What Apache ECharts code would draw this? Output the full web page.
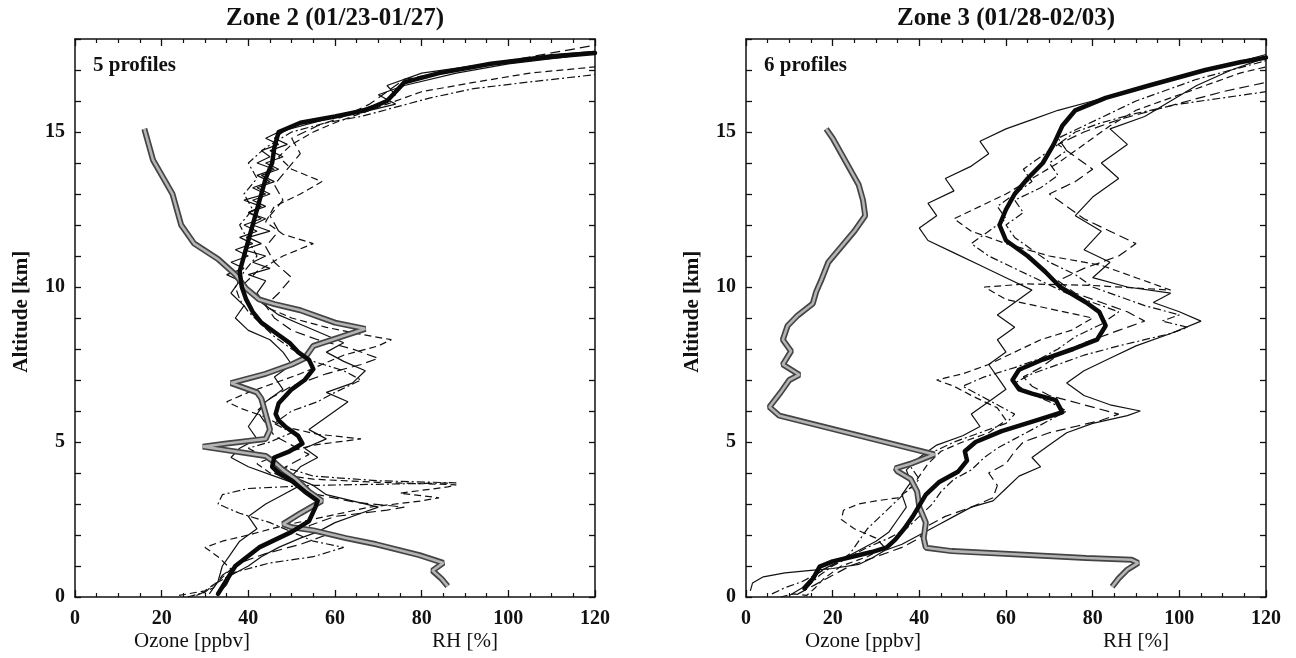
<!DOCTYPE html>
<html>
<head>
<meta charset="utf-8">
<script src="https://cdn.jsdelivr.net/npm/echarts@6/dist/echarts.min.js"></script>
<style>
  html, body { margin: 0; padding: 0; background: #fff; }
  #chart { width: 1296px; height: 658px; }
</style>
</head>
<body>
<div id="chart"></div>
<script>
// [ozone or RH value, altitude km]
var yTickLabels = [0, 5, 10, 15];

// ---- Zone 2 (01/23-01/27), 5 profiles ----
var z2Mean = [[33,0.1],[37,1.0],[42.5,1.6],[50,2.1],[54,2.45],[55.5,2.9],[56,3.1],[53,3.4],[50,3.75],[47,4.0],[45.5,4.2],[46,4.5],[49.5,4.7],[52.5,4.95],[51.5,5.2],[48.5,5.5],[47,5.7],[46.3,5.9],[47,6.25],[50,6.7],[53,7.0],[55,7.35],[54,7.65],[51.5,7.9],[49.5,8.2],[46.5,8.5],[43,8.85],[41,9.2],[39.5,9.6],[38.5,10.0],[38,10.5],[39,11.0],[40,11.5],[41,12.0],[42,12.5],[43,13.0],[44,13.5],[45.5,14.0],[46,14.5],[47,15.0],[52,15.3],[60,15.5],[67,15.7],[72,16.0],[74,16.3],[76,16.6],[84,16.9],[96,17.2],[108,17.4],[120,17.55]];
var z2RH = [[86,0.35],[84.5,0.6],[82.5,0.85],[85,1.1],[79.5,1.35],[69.5,1.7],[62.5,1.9],[55,2.15],[50,2.25],[48,2.35],[52,2.7],[57,3.1],[54,3.4],[51,3.8],[48,4.1],[46,4.35],[44,4.55],[29.5,4.85],[35,4.95],[44,5.1],[45,5.4],[44,5.9],[43,6.4],[42,6.6],[36,6.9],[44,7.2],[50,7.5],[53,7.7],[55,8.1],[67,8.65],[60,8.85],[52,9.25],[46,9.45],[42.5,9.6],[39.5,9.95],[37,10.4],[33,10.9],[27.5,11.4],[24.5,12.0],[22.5,13.0],[18,14.1],[16,15.1]];
var z2P1 = [[33,0.1],[35,0.4],[36,0.7],[40,1.0],[43,1.3],[47,1.6],[52,1.9],[56,2.1],[60,2.4],[66,2.7],[70,2.9],[64,3.1],[58,3.3],[55,3.6],[50,3.9],[52,4.2],[56,4.5],[53,4.8],[58,5.1],[54,5.4],[57,5.7],[60,6.0],[63,6.3],[58,6.6],[64,6.9],[67,7.3],[62,7.6],[58,7.9],[62,8.2],[57,8.5],[52,8.8],[47,9.1],[44,9.4],[42,9.8],[44,10.2],[40,10.4],[45,10.6],[41,10.8],[44,11.0],[39,11.2],[43,11.4],[40,11.6],[45,11.8],[41,12.0],[44,12.2],[40,12.4],[43,12.6],[39,12.8],[44,13.0],[41,13.2],[45,13.4],[42,13.6],[46,13.8],[42,14.0],[45,14.2],[43,14.4],[47,14.6],[44,14.8],[47,15.0],[55,15.3],[63,15.6],[70,15.9],[74,16.2],[72,16.5],[80,16.9],[95,17.2],[110,17.5],[120,17.6]];
var z2P2 = [[24,0.05],[30,0.2],[33,0.5],[36,0.9],[33,1.3],[30,1.6],[34,1.8],[40,2.0],[48,2.3],[58,2.6],[68,2.9],[80,3.1],[84,3.2],[75,3.35],[86,3.55],[88,3.62],[70,3.7],[55,3.8],[45,4.0],[42,4.3],[47,4.6],[55,4.9],[66,5.1],[56,5.25],[48,5.5],[44,5.8],[38,6.1],[35,6.3],[40,6.6],[46,6.9],[52,7.2],[57,7.5],[62,7.8],[70,8.1],[73,8.3],[65,8.5],[58,8.7],[50,9.0],[45,9.3],[41,9.7],[39,10.1],[42,10.5],[48,11.0],[55,11.4],[48,11.7],[44,12.1],[46,12.6],[52,13.0],[57,13.4],[50,13.8],[47,14.2],[50,14.6],[55,15.0],[60,15.3],[66,15.6],[72,15.9],[80,16.3],[92,16.6],[105,16.9],[120,17.1]];
var z2P3 = [[26,0.0],[30,0.15],[32,0.4],[37,0.8],[45,1.1],[55,1.3],[62,1.6],[55,1.8],[50,2.1],[45,2.4],[38,2.7],[33,3.0],[34,3.3],[40,3.5],[55,3.6],[75,3.65],[88,3.68],[70,3.75],[55,3.9],[48,4.2],[44,4.5],[40,4.8],[45,5.0],[50,5.3],[46,5.6],[50,6.0],[56,6.3],[60,6.6],[66,7.0],[62,7.3],[55,7.6],[50,8.0],[46,8.4],[43,8.8],[40,9.2],[38,9.6],[37,10.0],[39,10.5],[42,11.0],[40,11.5],[38,12.0],[41,12.5],[39,13.0],[42,13.5],[40,14.0],[44,14.5],[50,15.0],[58,15.3],[66,15.5],[74,15.8],[82,16.1],[92,16.4],[104,16.6],[120,16.85]];
var z2P4 = [[31,0.1],[33,0.5],[34,1.0],[36,1.4],[38,1.8],[42,2.2],[40,2.6],[44,3.0],[48,3.3],[52,3.6],[46,3.9],[40,4.2],[36,4.5],[38,4.8],[42,5.1],[40,5.5],[42,5.9],[44,6.3],[48,6.7],[46,7.1],[50,7.5],[48,7.9],[45,8.3],[40,8.6],[37,9.0],[39,9.4],[36,9.8],[38,10.2],[35,10.4],[39,10.6],[36,10.8],[40,11.0],[37,11.2],[41,11.4],[38,11.6],[42,11.8],[39,12.0],[43,12.2],[40,12.4],[44,12.6],[41,12.8],[45,13.0],[42,13.2],[46,13.4],[43,13.6],[47,13.8],[44,14.0],[48,14.2],[45,14.4],[49,14.6],[46,14.8],[48,15.0],[52,15.3],[60,15.5],[68,15.7],[74,15.9],[70,16.2],[76,16.5],[88,16.9],[100,17.2],[112,17.4],[120,17.55]];
var z2P5 = [[28,0.05],[32,0.3],[34,0.7],[38,1.1],[44,1.4],[52,1.7],[58,2.0],[54,2.3],[60,2.6],[72,2.8],[76,2.9],[65,3.05],[56,3.3],[50,3.7],[46,4.0],[50,4.3],[54,4.6],[50,4.9],[46,5.2],[44,5.6],[42,6.0],[45,6.4],[50,6.8],[58,7.2],[66,7.5],[70,7.7],[64,8.0],[56,8.3],[50,8.6],[46,9.0],[44,9.4],[47,9.8],[50,10.3],[46,10.8],[44,11.3],[47,11.8],[45,12.3],[48,12.8],[46,13.3],[49,13.8],[52,14.3],[50,14.8],[56,15.2],[62,15.5],[68,15.9],[72,16.3],[76,16.7],[88,17.0],[100,17.3],[112,17.6],[120,17.8]];

// ---- Zone 3 (01/28-02/03), 6 profiles ----
var z3Mean = [[13.5,0.27],[15.5,0.6],[17,0.98],[20,1.15],[24.5,1.3],[29,1.45],[32.5,1.6],[34.5,1.86],[36.5,2.2],[38.5,2.6],[41.5,3.3],[44.5,3.7],[49,4.05],[51,4.4],[50.5,4.7],[53,5.0],[59,5.35],[67,5.7],[73,5.96],[71.5,6.35],[66,6.56],[63,6.7],[61.5,7.0],[63,7.33],[68.5,7.66],[75.5,8.0],[81,8.3],[83,8.75],[81.5,9.2],[78.5,9.5],[75.5,9.75],[72.5,10.0],[69,10.5],[65,11.0],[60,11.5],[58.5,12.0],[60,12.5],[62,13.0],[65,13.5],[68.5,14.0],[71,14.6],[73,15.2],[76,15.7],[83,16.1],[93,16.5],[106,17.0],[114,17.25],[120,17.4]];
var z3RH = [[84.5,0.33],[86,0.6],[88,0.88],[90.5,1.1],[89,1.2],[78.5,1.26],[63,1.37],[47.5,1.48],[41.5,1.59],[41,1.9],[41.5,2.4],[40,2.9],[39.5,3.4],[38,3.8],[35,4.05],[34.5,4.15],[38,4.3],[43.5,4.6],[7.7,5.85],[5.4,6.13],[8,6.6],[10,7.0],[12.3,7.17],[8.5,7.5],[10.4,7.93],[8.5,8.3],[9.6,8.75],[11.9,9.08],[15.4,9.46],[16.2,9.85],[17.3,10.2],[19,10.8],[22,11.3],[25,11.8],[27.5,12.3],[27,12.8],[26,13.3],[24,13.8],[22,14.3],[20,14.8],[18.5,15.1]];
var z3P1 = [[1,0.2],[1.5,0.45],[4,0.65],[9,0.78],[15,0.86],[20,0.92],[26,1.05],[29,1.25],[32,1.5],[36,1.7],[40,2.0],[44,2.3],[48,2.6],[52,2.9],[57,3.1],[60,3.5],[63,3.9],[68,4.2],[66,4.5],[70,4.9],[74,5.3],[80,5.6],[88,5.85],[91,6.0],[84,6.2],[78,6.5],[74,6.9],[78,7.3],[84,7.7],[90,8.1],[98,8.5],[105,8.9],[100,9.2],[94,9.5],[98,9.8],[88,10.0],[80,10.3],[84,10.8],[78,11.2],[82,11.8],[76,12.3],[80,12.9],[86,13.5],[82,14.0],[88,14.6],[84,15.1],[92,15.5],[98,16.0],[104,16.5],[112,17.0],[120,17.4]];
var z3P2 = [[8,0.0],[11,0.1],[14,0.05],[16,0.3],[18,0.6],[22,1.0],[28,1.3],[32,1.6],[30,1.9],[25,2.2],[22,2.5],[22.5,2.8],[26,3.0],[30,3.1],[35,3.2],[38,3.5],[40,3.9],[42,4.3],[45,4.7],[50,5.0],[56,5.3],[60,5.7],[58,6.1],[52,6.5],[48,6.8],[44,7.0],[50,7.2],[56,7.5],[62,7.9],[68,8.3],[75,8.6],[80,9.0],[70,9.3],[60,9.6],[55,10.0],[65,10.1],[80,10.05],[98,9.9],[90,10.3],[82,10.7],[70,11.0],[60,11.4],[52,11.8],[48,12.2],[54,12.6],[60,13.0],[66,13.5],[72,14.0],[78,14.6],[84,15.2],[90,15.7],[98,16.1],[106,16.5],[114,16.9],[120,17.1]];
var z3P3 = [[14,0.3],[17,0.7],[20,1.0],[24,1.3],[28,1.6],[33,1.9],[37,2.2],[40,2.6],[43,3.0],[45,3.4],[48,3.8],[52,4.1],[55,4.5],[58,4.8],[62,5.1],[66,5.4],[70,5.7],[74,6.0],[70,6.3],[65,6.6],[62,6.9],[66,7.2],[72,7.5],[78,7.8],[86,8.1],[92,8.3],[98,8.5],[102,8.7],[96,8.9],[100,9.1],[92,9.4],[86,9.7],[80,10.0],[76,10.4],[70,10.8],[66,11.2],[62,11.6],[60,12.0],[64,12.4],[62,12.8],[68,13.2],[72,13.6],[70,14.0],[74,14.4],[72,14.8],[78,15.2],[84,15.6],[90,16.0],[96,16.3],[104,16.7],[112,17.0],[120,17.3]];
var z3P4 = [[10,0.05],[13,0.3],[15,0.6],[18,0.9],[22,1.2],[26,1.5],[30,1.8],[33,2.1],[35,2.5],[37,2.9],[36,3.3],[38,3.7],[37,4.1],[40,4.5],[44,4.9],[50,5.2],[54,5.5],[52,5.9],[56,6.3],[60,6.7],[58,7.1],[56,7.5],[60,7.9],[58,8.3],[62,8.7],[58,9.1],[62,9.5],[66,9.9],[60,10.3],[54,10.7],[48,11.1],[42,11.5],[40,11.9],[44,12.3],[42,12.7],[48,13.1],[46,13.5],[52,13.9],[56,14.3],[54,14.7],[60,15.1],[66,15.4],[72,15.7],[80,16.0],[88,16.3],[96,16.6],[104,16.9],[112,17.2],[120,17.5]];
var z3P5 = [[12,0.1],[16,0.4],[20,0.7],[24,1.0],[30,1.3],[36,1.6],[40,1.9],[42,2.3],[46,2.6],[52,2.9],[57,3.2],[58,3.6],[56,4.0],[60,4.3],[62,4.7],[64,5.0],[70,5.3],[76,5.5],[82,5.7],[86,5.9],[78,6.2],[70,6.5],[66,6.8],[64,7.1],[68,7.4],[72,7.8],[78,8.2],[86,8.6],[92,8.9],[88,9.2],[82,9.5],[76,9.8],[72,10.2],[78,10.6],[86,11.0],[90,11.4],[84,11.8],[78,12.2],[74,12.6],[70,13.0],[76,13.4],[80,13.8],[76,14.2],[72,14.6],[78,15.0],[86,15.4],[94,15.7],[102,16.0],[110,16.3],[120,16.6]];
var z3P6 = [[6,0.1],[9,0.3],[13,0.5],[17,0.8],[21,1.1],[24,1.4],[26,1.8],[28,2.2],[31,2.6],[34,3.0],[37,3.4],[40,3.8],[38,4.2],[42,4.6],[48,5.0],[54,5.3],[60,5.6],[62,5.9],[58,6.2],[54,6.5],[50,6.8],[55,7.1],[62,7.4],[68,7.7],[72,8.0],[76,8.4],[82,8.8],[86,9.2],[80,9.5],[74,9.8],[68,10.2],[62,10.6],[56,11.0],[52,11.4],[56,11.8],[60,12.2],[58,12.6],[62,13.0],[66,13.4],[64,13.8],[68,14.2],[72,14.6],[76,15.0],[82,15.3],[90,15.6],[100,15.9],[110,16.1],[120,16.3]];

var FONT = '"Liberation Serif", "DejaVu Serif", serif';
var dashStyles = ['solid', [7, 4], [8, 3, 2, 3], 'solid', [10, 5], [8, 3, 2, 3]];

function xAxis(g, position, labels) {
  return {
    gridIndex: g, type: 'value', position: position, min: 0, max: 120, interval: 20,
    axisLine: { show: true, onZero: false, lineStyle: { color: '#111', width: 1.5 } },
    axisTick: { show: true, inside: true, length: 7, lineStyle: { color: '#111', width: 1.3 } },
    minorTick: { show: true, splitNumber: 4, length: 4, lineStyle: { color: '#111', width: 1.2 } },
    splitLine: { show: false },
    axisLabel: { show: labels, color: '#111', fontFamily: FONT, fontWeight: 'bold', fontSize: 20, margin: 12 }
  };
}

function yAxis(g, position, labels) {
  return {
    gridIndex: g, type: 'value', position: position, min: 0, max: 18, interval: 1,
    axisLine: { show: true, onZero: false, lineStyle: { color: '#111', width: 1.5 } },
    axisTick: { show: true, inside: true, length: 6, lineStyle: { color: '#111', width: 1.3 } },
    splitLine: { show: false },
    axisLabel: {
      show: labels, color: '#111', fontFamily: FONT, fontWeight: 'bold', fontSize: 20, margin: 10,
      formatter: function (v) { return yTickLabels.indexOf(v) >= 0 ? String(v) : ''; }
    }
  };
}

function panelSeries(g, mean, rh, profiles) {
  var ax = g * 2;
  var out = [];
  profiles.forEach(function (p, i) {
    out.push({
      type: 'line', xAxisIndex: ax, yAxisIndex: ax, data: p,
      showSymbol: false, symbol: 'none', silent: true, z: 2,
      lineStyle: { color: '#111', width: 1.2, type: dashStyles[i] }
    });
  });
  // RH: hatched grey band -> dark edge + light core
  out.push({
    type: 'line', xAxisIndex: ax, yAxisIndex: ax, data: rh,
    showSymbol: false, symbol: 'none', silent: true, z: 3,
    lineStyle: { color: '#444', width: 6 }
  });
  out.push({
    type: 'line', xAxisIndex: ax, yAxisIndex: ax, data: rh,
    showSymbol: false, symbol: 'none', silent: true, z: 4,
    lineStyle: { color: '#b4b4b4', width: 2.6 }
  });
  out.push({
    type: 'line', xAxisIndex: ax, yAxisIndex: ax, data: mean,
    showSymbol: false, symbol: 'none', silent: true, z: 5,
    lineStyle: { color: '#0a0a0a', width: 4.5, join: 'round', cap: 'round' }
  });
  return out;
}

var chart = echarts.init(document.getElementById('chart'), null, { renderer: 'canvas' });

chart.setOption({
  animation: false,
  backgroundColor: '#fff',
  grid: [
    { left: 75, right: 1296 - 595, top: 39, bottom: 658 - 597 },
    { left: 746, right: 1296 - 1266, top: 39, bottom: 658 - 597 }
  ],
  xAxis: [xAxis(0, 'bottom', true), xAxis(0, 'top', false), xAxis(1, 'bottom', true), xAxis(1, 'top', false)],
  yAxis: [yAxis(0, 'left', true), yAxis(0, 'right', false), yAxis(1, 'left', true), yAxis(1, 'right', false)],
  series: panelSeries(0, z2Mean, z2RH, [z2P1, z2P2, z2P3, z2P4, z2P5])
    .concat(panelSeries(1, z3Mean, z3RH, [z3P1, z3P2, z3P3, z3P4, z3P5, z3P6]))
});

function px(g, x, y) {
  return chart.convertToPixel({ xAxisIndex: g * 2, yAxisIndex: g * 2 }, [x, y]);
}

var texts = [];
function addText(x, y, str, size, weight, align, rot) {
  texts.push({
    type: 'text', x: x, y: y, rotation: rot || 0,
    style: {
      text: str, fill: '#111', font: weight + ' ' + size + 'px ' + FONT,
      textAlign: align, textVerticalAlign: 'middle'
    }
  });
}
[
  { g: 0, title: 'Zone 2 (01/23-01/27)', note: '5 profiles' },
  { g: 1, title: 'Zone 3 (01/28-02/03)', note: '6 profiles' }
].forEach(function (p) {
  var bl = px(p.g, 0, 0), tr = px(p.g, 120, 18);
  addText((bl[0] + tr[0]) / 2, 19, p.title, 25, 'bold', 'center');
  addText(bl[0] + 18, 66, p.note, 21, 'bold', 'left');
  addText(px(p.g, 27, 0)[0], 641, 'Ozone [ppbv]', 21, 'normal', 'center');
  addText(px(p.g, 90, 0)[0], 641, 'RH [%]', 21, 'normal', 'center');
  addText(bl[0] - 53, px(p.g, 0, 9.2)[1], 'Altitude [km]', 21, 'bold', 'center', Math.PI / 2);
});
chart.setOption({ graphic: texts });
</script>
</body>
</html>
